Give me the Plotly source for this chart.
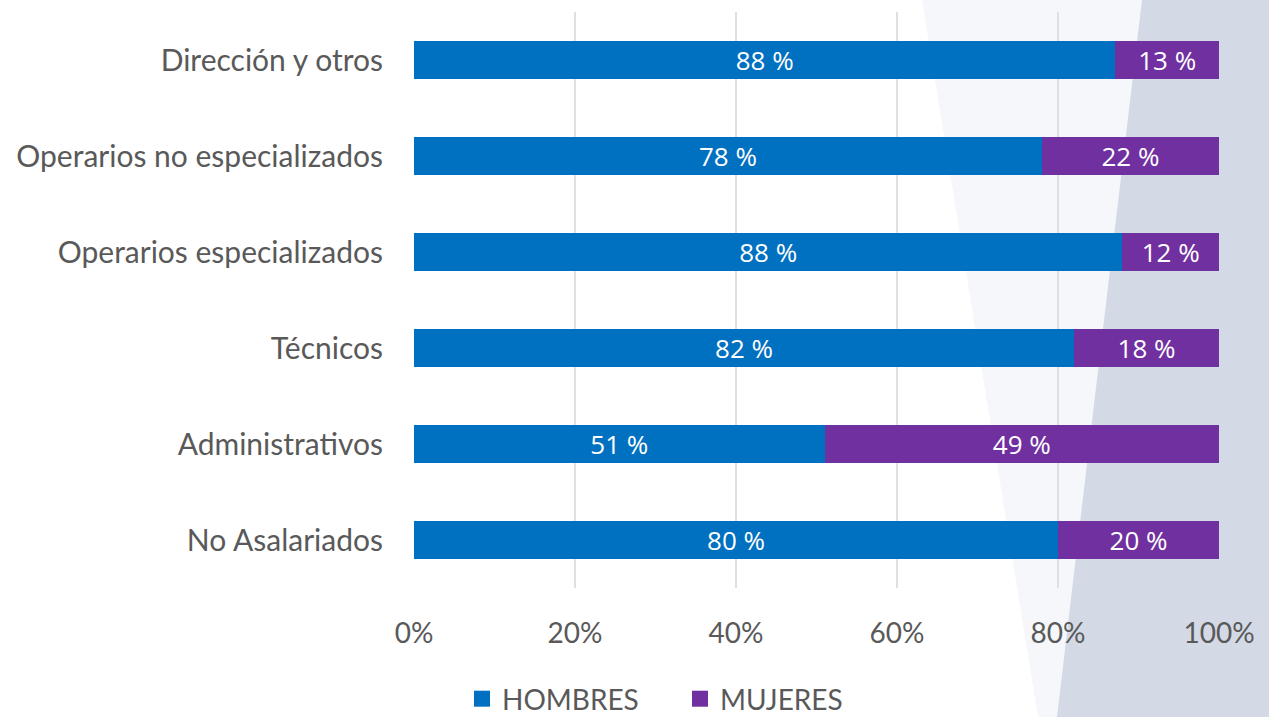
import plotly.graph_objects as go

# Categories from top to bottom
categorias = [
    "Dirección y otros",
    "Operarios no especializados",
    "Operarios especializados",
    "Técnicos",
    "Administrativos",
    "No Asalariados",
]
hombres = [88, 78, 88, 82, 51, 80]
mujeres = [13, 22, 12, 18, 49, 20]
ticks_x = [0, 20, 40, 60, 80, 100]
ticks_x_text = ["0%", "20%", "40%", "60%", "80%", "100%"]

AZUL = "#0070C0"
MORADO = "#7030A0"
GRIS = "#595959"
FUENTE = "Lato"
FUENTE_BARRAS = "Open Sans"

W, H = 1269, 717
L, R, T, B = 414, 50, 12, 129
pw, ph = W - L - R, H - T - B


def px(x):
    return (x - L) / pw


def py(y):
    return (H - B - y) / ph


fig = go.Figure()
for nombre, valores, color in (("HOMBRES", hombres, AZUL), ("MUJERES", mujeres, MORADO)):
    fig.add_trace(go.Bar(
        name=nombre, y=categorias, x=valores, orientation="h",
        marker=dict(color=color, line=dict(width=0)), showlegend=False,
        legendgroup=nombre,
        text=[f"{v} %" for v in valores], textposition="inside",
        insidetextanchor="middle", constraintext="none",
        textfont=dict(color="white", size=26, family=FUENTE_BARRAS),
    ))
# Legend entries with larger square swatches
for nombre, color in (("HOMBRES", AZUL), ("MUJERES", MORADO)):
    fig.add_trace(go.Scatter(
        name=nombre, x=[None], y=[None], mode="markers", legendgroup=nombre,
        marker=dict(symbol="square", size=19, color=color),
    ))

# Decorative background bands on the right-hand side
fondo_claro = (f"M {px(922)},{py(0)} L {px(1300)},{py(0)} "
               f"L {px(1300)},{py(H)} L {px(1038)},{py(H)} Z")
fondo_oscuro = (f"M {px(1142)},{py(0)} L {px(1300)},{py(0)} "
                f"L {px(1300)},{py(H)} L {px(1057)},{py(H)} Z")
fig.add_shape(type="path", path=fondo_claro, xref="paper", yref="paper",
              fillcolor="#F5F7FB", line=dict(width=0), layer="below")
fig.add_shape(type="path", path=fondo_oscuro, xref="paper", yref="paper",
              fillcolor="#D3DAE5", line=dict(width=0), layer="below")

fig.update_layout(
    barmode="stack",
    barnorm="percent",
    bargap=0.6,
    width=W, height=H,
    margin=dict(l=L, r=R, t=T, b=B, autoexpand=False),
    paper_bgcolor="white",
    plot_bgcolor="rgba(0,0,0,0)",
    font=dict(family=FUENTE, color=GRIS, size=28),
    showlegend=True,
    legend=dict(
        orientation="h", x=px(462), xanchor="left", y=py(699), yanchor="middle",
        font=dict(size=28, color=GRIS), bgcolor="rgba(0,0,0,0)",
        traceorder="normal", itemwidth=30, entrywidth=173,
    ),
)
fig.update_xaxes(
    range=[0, 100], tickvals=ticks_x, ticktext=ticks_x_text,
    showgrid=True, gridcolor="#E0E0E0", gridwidth=2,
    zeroline=False, showline=False, ticks="",
    ticklabelstandoff=26, tickfont=dict(size=28, color=GRIS),
)
fig.update_yaxes(
    categoryorder="array", categoryarray=categorias, autorange="reversed",
    showgrid=False, showline=False, ticks="",
    ticklabelstandoff=30, tickfont=dict(size=30, color=GRIS),
)

fig.write_html("out.html")
